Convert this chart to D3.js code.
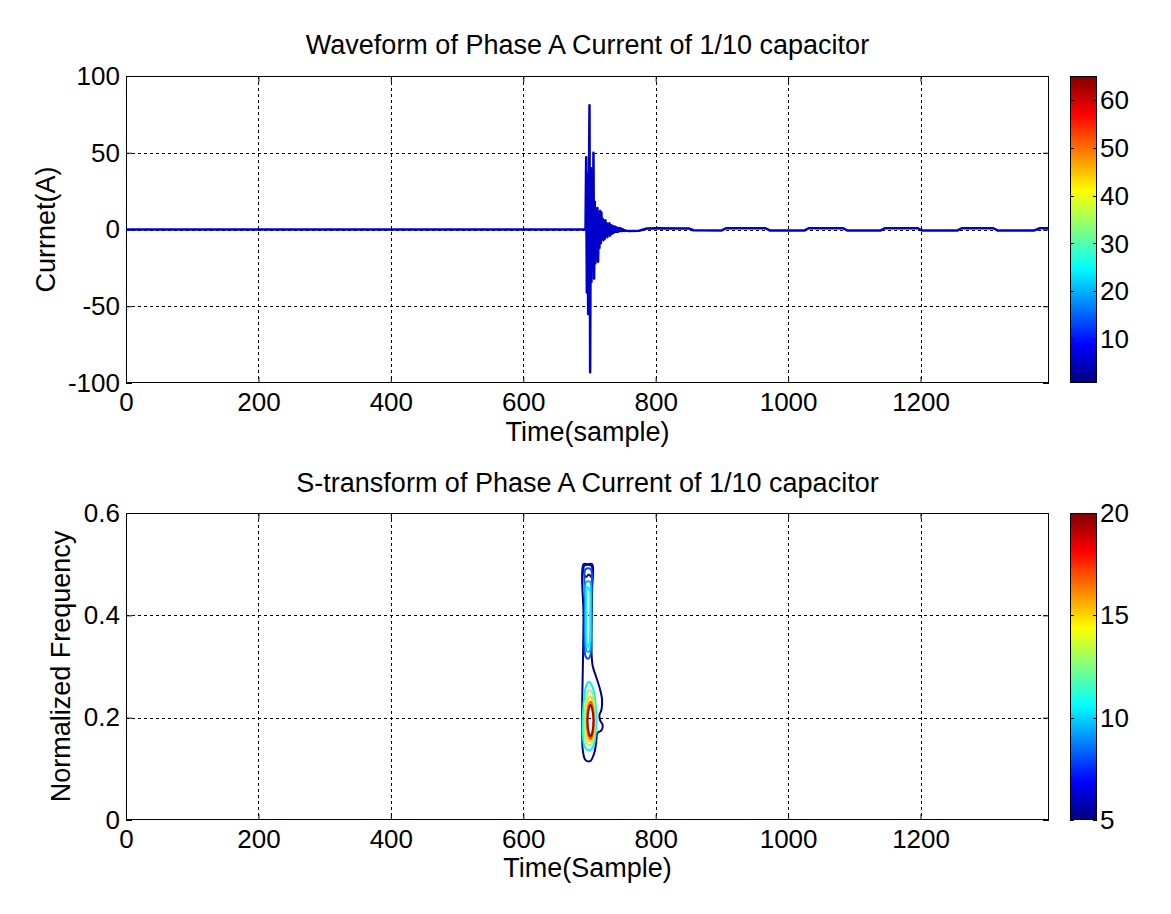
<!DOCTYPE html>
<html><head><meta charset="utf-8">
<script src="https://cdn.jsdelivr.net/npm/d3@7"></script>
<style>body{margin:0;background:#fff}</style>
</head><body>
<svg id="c" width="1171" height="914"></svg>
<script>
// ---------------- data ----------------
const xTicks = [0, 200, 400, 600, 800, 1000, 1200];
const waveYTicks = [-100, -50, 0, 50, 100];
const freqYTicks = [0, 0.2, 0.4, 0.6];
const cbar1Ticks = [10, 20, 30, 40, 50, 60];
const cbar2Ticks = [5, 10, 15, 20];
const sampleMax = 1394;
const cbar1Domain = [0.83, 65];
const cbar2Domain = [5, 20];

// waveform of phase A current, [sample, current(A)]
const wavePre = [[0, 0], [694, 0]];
const waveTransient = [
  [695, 47], [696, -41], [697, 36], [698, -55], [699, 22], [700, 81], [701, -93],
  [702, 40], [703, -34], [704, 28], [705, -26], [706, 50], [707, -32], [708, 18],
  [709, -22], [710, 10], [711, -17], [712, 14], [713, -21], [714, 8], [715, -12],
  [716, 12], [717, -9], [718, 11], [719, -6], [720, 7], [721, -7], [722, 5],
  [723, -6], [724, 6], [725, -4], [726, 4], [727, -5], [728, 3], [729, -3],
  [730, 4], [731, -4], [732, 3], [733, -3], [734, 2.5], [735, -2.5], [736, 2],
  [737, -2], [738, 2], [739, -1.5], [740, 1.5], [741, -1.5], [742, 1], [743, -1.5],
  [744, 1], [745, -1], [746, 0.8], [747, -1], [748, 0.5], [749, -1], [750, 0.2],
  [751, -0.8], [752, -0.3], [753, -0.9], [754, -0.6], [755, -0.8]
];
const wavePost = [
  [760, -0.9], [775, -0.8], [787, 0.6], [800, 0.8], [850, 0.7], [857, -0.5],
  [900, -0.6], [906, 0.8], [966, 0.8], [972, -0.6], [1025, -0.6], [1031, 0.8],
  [1083, 0.8], [1089, -0.6], [1140, -0.6], [1146, 0.8], [1196, 0.8], [1202, -0.6],
  [1256, -0.6], [1262, 0.8], [1310, 0.8], [1316, -0.6], [1372, -0.6], [1380, 0.8],
  [1394, 0.8]
];

// S-transform contour lines, [sample, normalized frequency]
const contour5 = [[691,0.50],[697,0.50],[704,0.50],[704,0.45],[703,0.38],[703,0.33],[705,0.30],[710,0.28],[716,0.255],[719,0.235],[718,0.215],[715,0.205],[716,0.195],[720,0.185],[718,0.175],[712,0.17],[710,0.15],[707,0.13],[701,0.115],[694,0.117],[690,0.135],[689,0.17],[689,0.23],[690,0.30],[691,0.40]];
const contour6 = [[692,0.497],[703,0.497],[703,0.475],[699,0.48],[695,0.475],[692,0.48]];
const contour8 = [[694,0.49],[702,0.49],[703,0.44],[703,0.37],[702,0.325],[698,0.315],[694,0.32],[692.5,0.36],[693,0.44]];
const contour9Upper = [[695,0.465],[701,0.465],[702,0.42],[702,0.36],[700,0.33],[696,0.33],[694,0.36],[694,0.42]];
const contour10Upper = [[696,0.455],[700,0.45],[701,0.40],[700.5,0.35],[698,0.338],[696,0.345],[695,0.39],[695,0.43]];
const contour10Lower = [[699,0.27],[704,0.262],[708,0.24],[710,0.205],[709,0.165],[705,0.142],[699,0.136],[693,0.142],[690,0.165],[690,0.205],[692,0.24],[695,0.262]];
const contour13 = [[700,0.255],[704,0.248],[707,0.225],[708,0.195],[707,0.165],[704,0.15],[700,0.146],[696,0.15],[693,0.165],[692.5,0.195],[694,0.228],[697,0.248]];
const contour15 = [[701,0.242],[704,0.235],[706,0.215],[707,0.192],[706,0.168],[704,0.157],[701,0.153],[698,0.157],[695.5,0.17],[695,0.195],[696,0.22],[698,0.236]];
const contour17 = [[701.5,0.231],[704.5,0.222],[706.5,0.194],[704.5,0.166],[701.5,0.158],[698.5,0.166],[696.5,0.194],[698.5,0.222]];
const contour19 = [[701.5,0.225],[704,0.217],[706,0.194],[704,0.17],[701.5,0.163],[699,0.17],[697,0.194],[699,0.217]];
const contourSet = [
  {level: 5, pts: contour5}, {level: 6, pts: contour6}, {level: 8, pts: contour8},
  {level: 9.5, pts: contour9Upper},
  {level: 10.5, pts: contour10Upper}, {level: 10.5, pts: contour10Lower},
  {level: 13, pts: contour13}, {level: 15, pts: contour15},
  {level: 17, pts: contour17}, {level: 19.5, pts: contour19}
];

// ---------------- drawing ----------------
const FONT = "'Liberation Sans', Arial, Helvetica, sans-serif";
const TICKFS = 26, LABELFS = 27;
const svg = d3.select("#c");
svg.append("rect").attr("width", 1171).attr("height", 914).attr("fill", "#fff");

function jet(t) {
  const c = v => Math.max(0, Math.min(1, v));
  return d3.rgb(255 * c(1.5 - Math.abs(4 * t - 3)), 255 * c(1.5 - Math.abs(4 * t - 2)), 255 * c(1.5 - Math.abs(4 * t - 1)));
}

const L = 126, R = 1049;
const panels = [
  {top: 76, bottom: 383, yDomain: [-100, 100], yTicks: waveYTicks, fmt: d => String(d),
   title: "Waveform of Phase A Current of 1/10 capacitor", titleY: 54,
   xlabel: "Time(sample)", xlabelY: 441, ylabel: "Currnet(A)", ylabelX: 55,
   cDomain: cbar1Domain, cTicks: cbar1Ticks, gid: "g1"},
  {top: 513, bottom: 820, yDomain: [0, 0.6], yTicks: freqYTicks, fmt: d => d === 0 ? "0" : d.toFixed(1),
   title: "S-transform of Phase A Current of 1/10 capacitor", titleY: 492,
   xlabel: "Time(Sample)", xlabelY: 877, ylabel: "Normalized Frequency", ylabelX: 70,
   cDomain: cbar2Domain, cTicks: cbar2Ticks, gid: "g2"}
];

const defs = svg.append("defs");

panels.forEach((p, i) => {
  const x = d3.scaleLinear().domain([0, sampleMax]).range([L, R]);
  const y = d3.scaleLinear().domain(p.yDomain).range([p.bottom, p.top]);
  p.x = x; p.y = y;
  const g = svg.append("g");

  // grid
  const grid = g.append("g").attr("stroke", "#000").attr("stroke-width", 1).attr("stroke-dasharray", "3,3");
  grid.selectAll("line.vx").data(xTicks.filter(d => d > 0)).join("line")
    .attr("x1", d => Math.round(x(d)) + 0.5).attr("x2", d => Math.round(x(d)) + 0.5)
    .attr("y1", p.top).attr("y2", p.bottom);
  grid.selectAll("line.hy").data(p.yTicks.filter(d => d > p.yDomain[0] && d < p.yDomain[1])).join("line")
    .attr("y1", d => Math.round(y(d)) + 0.5).attr("y2", d => Math.round(y(d)) + 0.5)
    .attr("x1", L).attr("x2", R);

  // axes
  const ax = g.append("g").attr("transform", `translate(0,${p.bottom})`)
    .call(d3.axisBottom(x).tickValues(xTicks).tickSize(-6).tickPadding(10).tickFormat(d => String(d)));
  const axT = g.append("g").attr("transform", `translate(0,${p.top})`)
    .call(d3.axisTop(x).tickValues(xTicks).tickSize(-6).tickFormat(""));
  const ay = g.append("g").attr("transform", `translate(${L},0)`)
    .call(d3.axisLeft(y).tickValues(p.yTicks).tickSize(-6).tickPadding(6).tickFormat(p.fmt));
  const ayR = g.append("g").attr("transform", `translate(${R},0)`)
    .call(d3.axisRight(y).tickValues(p.yTicks).tickSize(-6).tickFormat(""));
  [ax, axT, ay, ayR].forEach(a => {
    a.select(".domain").remove();
    a.selectAll("line").attr("stroke", "#000");
    a.selectAll("text").attr("font-family", FONT).attr("font-size", TICKFS).attr("fill", "#000");
  });
  g.append("rect").attr("x", L + 0.5).attr("y", p.top + 0.5).attr("width", R - L - 1).attr("height", p.bottom - p.top - 1)
    .attr("fill", "none").attr("stroke", "#000").attr("stroke-width", 1);

  // labels
  g.append("text").attr("x", (L + R) / 2).attr("y", p.titleY).attr("text-anchor", "middle")
    .attr("font-family", FONT).attr("font-size", LABELFS).text(p.title);
  g.append("text").attr("x", (L + R) / 2).attr("y", p.xlabelY).attr("text-anchor", "middle")
    .attr("font-family", FONT).attr("font-size", LABELFS).text(p.xlabel);
  g.append("text").attr("transform", `translate(${p.ylabelX},${(p.top + p.bottom) / 2}) rotate(-90)`)
    .attr("text-anchor", "middle").attr("font-family", FONT).attr("font-size", LABELFS).text(p.ylabel);

  // colorbar
  const cx0 = 1070, cx1 = 1097;
  const cy = d3.scaleLinear().domain(p.cDomain).range([p.bottom, p.top]);
  const grad = defs.append("linearGradient").attr("id", p.gid).attr("x1", 0).attr("y1", 1).attr("x2", 0).attr("y2", 0);
  grad.selectAll("stop").data(d3.range(0, 1.0001, 1 / 32)).join("stop")
    .attr("offset", d => d).attr("stop-color", d => jet(d));
  g.append("rect").attr("x", cx0).attr("y", p.top).attr("width", cx1 - cx0).attr("height", p.bottom - p.top)
    .attr("fill", `url(#${p.gid})`);
  const cb = g.append("g");
  cb.selectAll("line.l").data(p.cTicks).join("line")
    .attr("x1", cx0).attr("x2", cx0 + 4).attr("y1", d => Math.round(cy(d)) + 0.5).attr("y2", d => Math.round(cy(d)) + 0.5)
    .attr("stroke", "#000");
  cb.selectAll("line.r").data(p.cTicks).join("line").attr("class", "r")
    .attr("x1", cx1 - 4).attr("x2", cx1).attr("y1", d => Math.round(cy(d)) + 0.5).attr("y2", d => Math.round(cy(d)) + 0.5)
    .attr("stroke", "#000");
  cb.selectAll("text").data(p.cTicks).join("text")
    .attr("x", cx1 + 3).attr("y", d => cy(d)).attr("dy", "0.35em")
    .attr("font-family", FONT).attr("font-size", TICKFS).text(d => d);
  g.append("rect").attr("x", cx0 + 0.5).attr("y", p.top + 0.5).attr("width", cx1 - cx0 - 1).attr("height", p.bottom - p.top - 1)
    .attr("fill", "none").attr("stroke", "#000");
});

// waveform
{
  const p = panels[0];
  const pts = wavePre.concat(waveTransient, wavePost);
  const line = d3.line().x(d => p.x(d[0])).y(d => p.y(d[1]));
  svg.append("path").datum(pts).attr("d", line).attr("fill", "none")
    .attr("stroke", "#0000c8").attr("stroke-width", 2.5).attr("stroke-linejoin", "round");
}

// contours
{
  const p = panels[1];
  const cScale = d3.scaleLinear().domain(cbar2Domain).range([0, 1]).clamp(true);
  const line = d3.line().x(d => p.x(d[0])).y(d => p.y(d[1])).curve(d3.curveCatmullRomClosed.alpha(0.5));
  svg.append("g").selectAll("path").data(contourSet).join("path")
    .attr("d", d => line(d.pts)).attr("fill", "none")
    .attr("stroke", d => jet(cScale(d.level))).attr("stroke-width", 2);
}
</script>
</body></html>
